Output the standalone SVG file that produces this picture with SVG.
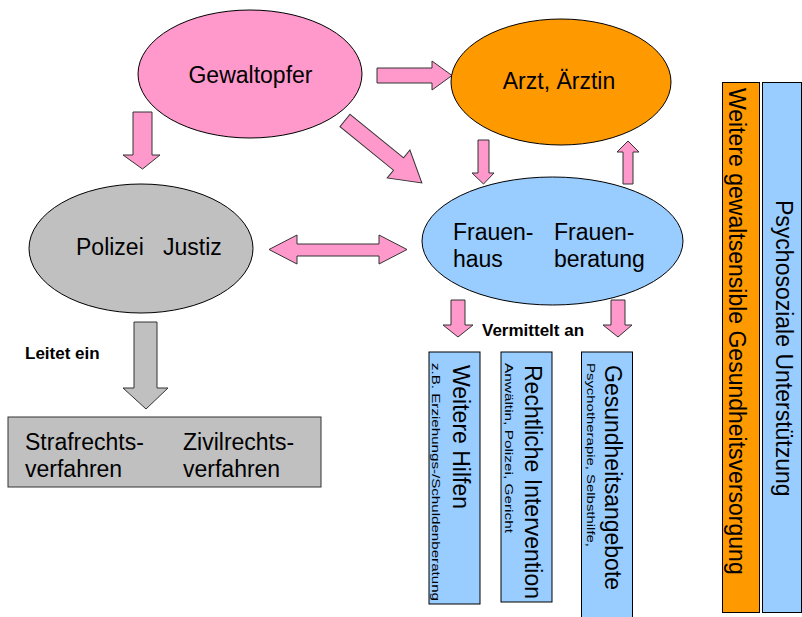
<svg xmlns="http://www.w3.org/2000/svg" width="802" height="617" viewBox="0 0 802 617">
<style>
text{font-family:"Liberation Sans",Arial,sans-serif;fill:#000}
.big{font-size:23px}
.lbl{font-size:17px;font-weight:bold}
.sm{font-size:11px}
.pink{fill:#FF99CC;stroke:#333;stroke-width:1}
.grayA{fill:#C0C0C0;stroke:#333;stroke-width:1}
.node{stroke:#000;stroke-width:1}
</style>
<rect width="802" height="617" fill="#fff"/>
<g id="connectors">
<polygon class="pink" points="377,68 432,68 432,61 452,75.5 432,90 432,83 377,83"/>
<polygon class="pink" points="133,112 152,112 152,155 160,155 142.5,169 123,155 133,155"/>
<polygon class="pink" transform="translate(345,120.5) rotate(39.1)" points="0,-8 69,-8 69,-18 99,0 69,18 69,8 0,8"/>
<polygon class="pink" points="478,140 489,140 489,173 494,173 483.5,184 472,173 478,173"/>
<polygon class="pink" points="623,184 633,184 633,152 639,152 628,141 617,152 623,152"/>
<polygon class="pink" points="269,249.5 297,235 297,244 379,244 379,235 407,249.5 379,264 379,256 297,256 297,264"/>
<polygon class="pink" points="451,300 465,300 465,325 473,325 458,337 443,325 451,325"/>
<polygon class="pink" points="611,300 625,300 625,325 632,325 618,337 603,325 611,325"/>
<polygon class="grayA" points="134,322 157,322 157,388 168,388 146,409 123,388 134,388"/>
<text class="lbl" x="25" y="359">Leitet ein</text>
<text class="lbl" x="482" y="336">Vermittelt an</text>
</g>
<g id="gewaltopfer">
<ellipse class="node" cx="250" cy="74" rx="112" ry="64" fill="#FF99CC"/>
<text class="big" x="250.5" y="83" text-anchor="middle">Gewaltopfer</text>
</g>
<g id="arzt">
<ellipse class="node" cx="561" cy="82" rx="110" ry="63" fill="#FF9900"/>
<text class="big" x="559" y="89" text-anchor="middle">Arzt, Ärztin</text>
</g>
<g id="polizei">
<ellipse class="node" cx="141" cy="248.5" rx="112" ry="64.5" fill="#C0C0C0"/>
<text class="big" x="76" y="255">Polizei</text>
<text class="big" x="163" y="255">Justiz</text>
</g>
<g id="frauen">
<ellipse class="node" cx="552.5" cy="241" rx="130.5" ry="64" fill="#99CCFF"/>
<text class="big" x="453" y="240">Frauen-</text>
<text class="big" x="453" y="267">haus</text>
<text class="big" x="554" y="240">Frauen-</text>
<text class="big" x="554" y="267">beratung</text>
</g>
<g id="verfahren">
<rect x="8" y="417" width="313" height="70" fill="#C0C0C0" stroke="#333" stroke-width="1"/>
<text class="big" x="25" y="450">Strafrechts-</text>
<text class="big" x="25" y="477">verfahren</text>
<text class="big" x="183" y="450">Zivilrechts-</text>
<text class="big" x="183" y="477">verfahren</text>
</g>
<g id="weitere-hilfen">
<rect class="node" x="429" y="352" width="51" height="252" fill="#99CCFF"/>
<text class="big" transform="translate(453,365) rotate(90)">Weitere Hilfen</text>
<text class="sm" transform="translate(432,363) rotate(90)" textLength="238" lengthAdjust="spacingAndGlyphs">z.B. Erziehungs-/Schuldenberatung</text>
</g>
<g id="rechtliche-intervention">
<rect class="node" x="501" y="352" width="51" height="250" fill="#99CCFF"/>
<text class="big" transform="translate(525,365) rotate(90)">Rechtliche Intervention</text>
<text class="sm" transform="translate(505,363) rotate(90)" textLength="170" lengthAdjust="spacingAndGlyphs">Anwältin, Polizei, Gericht</text>
</g>
<g id="gesundheitsangebote">
<rect class="node" x="581.5" y="352" width="51" height="270" fill="#99CCFF"/>
<text class="big" transform="translate(605,365) rotate(90)">Gesundheitsangebote</text>
<text class="sm" transform="translate(587,363) rotate(90)" textLength="184" lengthAdjust="spacingAndGlyphs">Psychotherapie, Selbsthilfe,</text>
</g>
<g id="gesundheitsversorgung">
<rect class="node" x="722.5" y="82.5" width="37" height="530" fill="#FF9900"/>
<text class="big" transform="translate(729,88) rotate(90)">Weitere gewaltsensible Gesundheitsversorgung</text>
</g>
<g id="psychosoziale">
<rect class="node" x="762.5" y="82.5" width="39" height="530" fill="#99CCFF"/>
<text class="big" transform="translate(776,200) rotate(90)">Psychosoziale Unterstützung</text>
</g>
</svg>
